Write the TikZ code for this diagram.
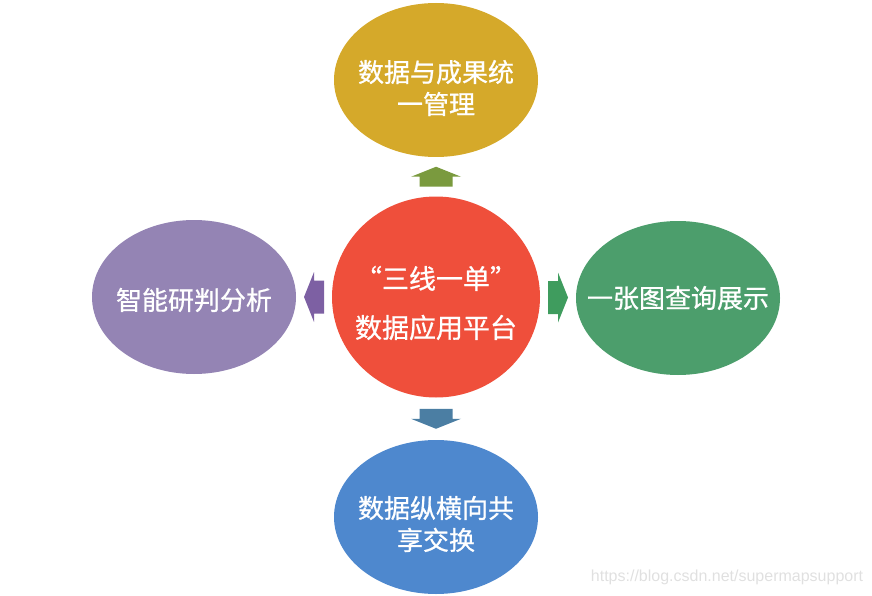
\documentclass[tikz,border=0pt]{standalone}
\usepackage{fontspec}
\newfontfamily\cjk[FakeBold=0.8]{Noto Sans CJK SC}
\setsansfont{Liberation Sans}
\usetikzlibrary{shapes.geometric,calc}
\definecolor{hubred}{HTML}{EF4F3B}
\definecolor{gold}{HTML}{D5A92A}
\definecolor{lavender}{HTML}{9484B4}
\definecolor{leaf}{HTML}{4C9E6C}
\definecolor{sky}{HTML}{4E88CE}
\definecolor{olivearrow}{HTML}{7A9A3E}
\definecolor{steelarrow}{HTML}{4B7EA3}
\definecolor{plumarrow}{HTML}{7D60A3}
\definecolor{greenarrow}{HTML}{3F9C5E}
\begin{document}
\begin{tikzpicture}[x=1pt, y=-1pt,
    topic/.style={ellipse, draw=none, minimum width=204pt, minimum height=154pt, inner sep=0pt},
    caption/.style={text=white, align=center, font=\cjk\fontsize{26}{32}\selectfont},
    blockarrow/.pic={\fill[#1] (-10,-16.5) -- (0,-16.5) -- (0,-25) -- (10,0) -- (0,25) -- (0,16.5) -- (-10,16.5) -- cycle;}]
    \useasboundingbox (0,0) rectangle (872,596);
    \node[topic, fill=hubred, minimum width=208pt, minimum height=201pt,
      label={[caption, font=\cjk\fontsize{27}{49}\selectfont, yshift=-6pt]center:{“三线一单”\\数据应用平台}}] (hub) at (436,297) {};
    \node[topic, fill=gold, label={[caption, yshift=-8pt]center:{数据与成果统\\一管理}}] (data) at (436,80) {};
    \node[topic, fill=lavender, label={[caption, yshift=-3pt]center:智能研判分析}] (study) at (194,297) {};
    \node[topic, fill=leaf, label={[caption]center:一张图查询展示}] (map) at (678,298) {};
    \node[topic, fill=sky, label={[caption, yshift=-7pt]center:{数据纵横向共\\享交换}}] (share) at (436,517) {};
    % block arrows between the hub and the four topics
    \pic[rotate=90] at ($(hub.north)!0.5!(data.south)$) {blockarrow=olivearrow};
    \pic[rotate=-90] at ($(hub.south)!0.5!(share.north)$) {blockarrow=steelarrow};
    \pic[rotate=180] at ($(hub.west)!0.5!(study.east)$) {blockarrow=plumarrow};
    \pic at ($(hub.east)!0.5!(map.west)$) {blockarrow=greenarrow};
    \node[font=\sffamily\fontsize{16}{18}\selectfont, text=black!12] (mark) at (727,577) {https://blog.csdn.net/supermapsupport};
\end{tikzpicture}
\end{document}
